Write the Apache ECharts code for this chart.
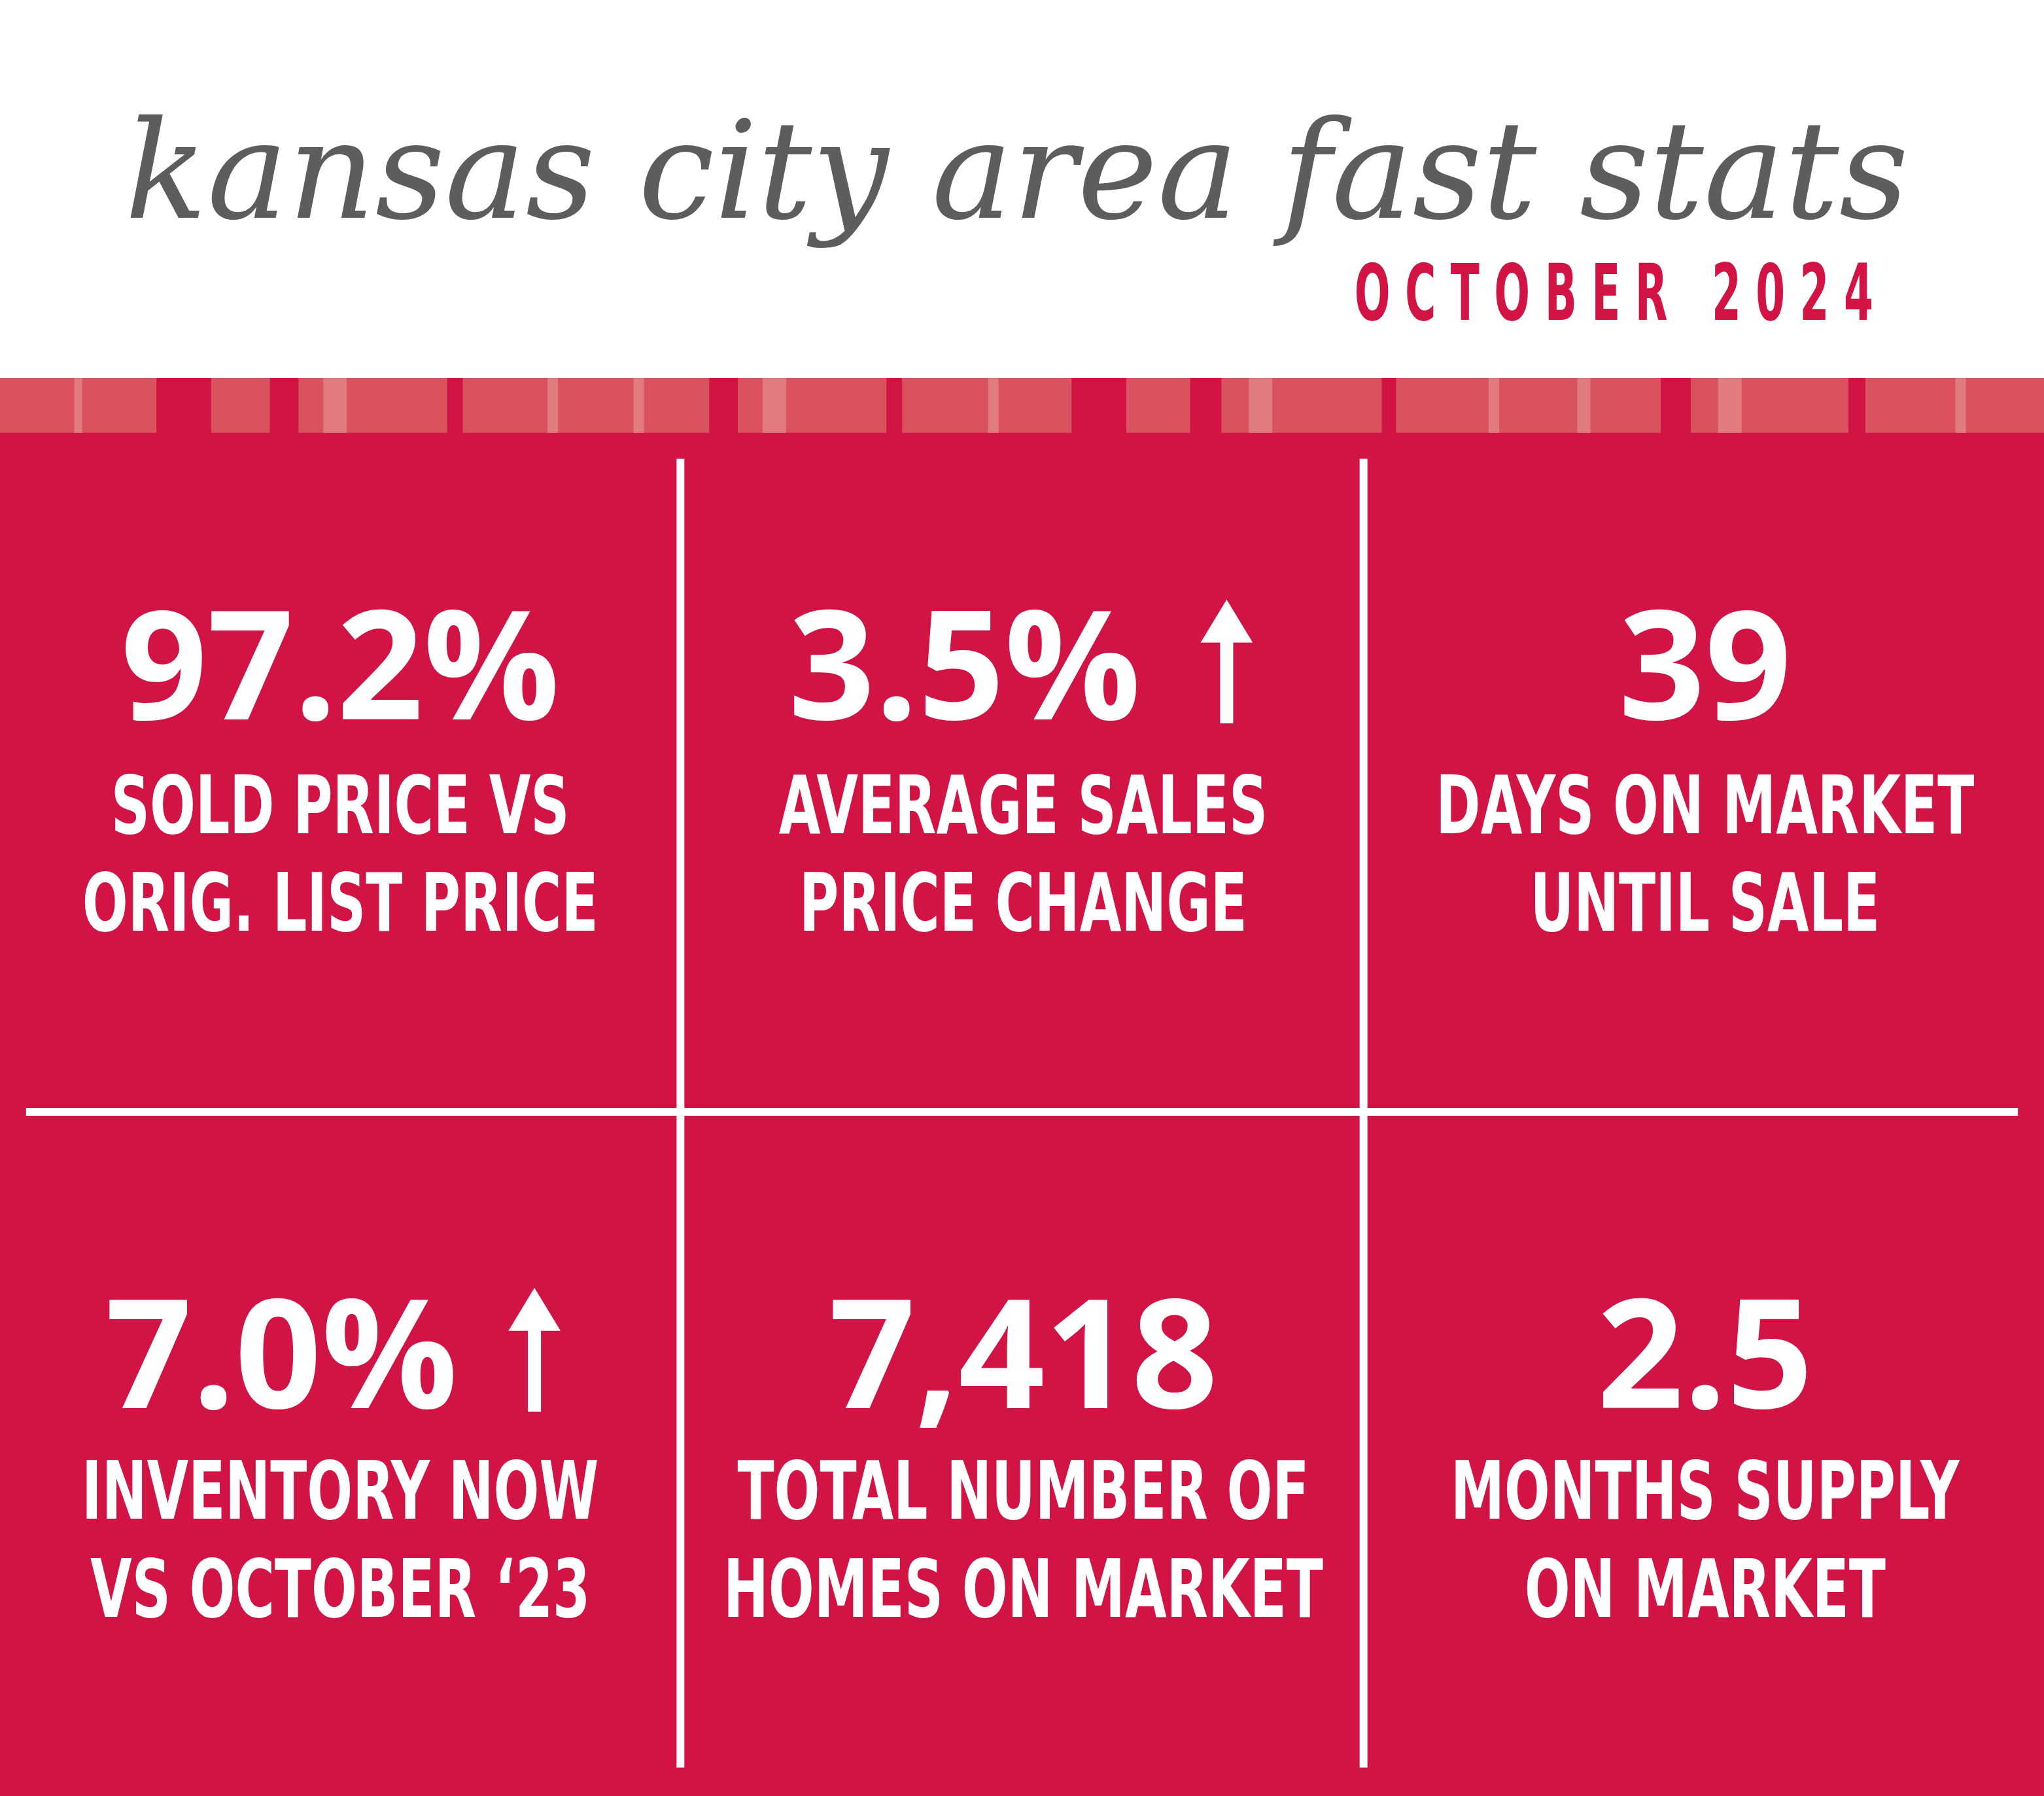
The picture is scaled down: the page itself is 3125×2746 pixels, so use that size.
<!DOCTYPE html>
<html><head><meta charset="utf-8">
<script src="https://cdn.jsdelivr.net/npm/echarts@6/dist/echarts.min.js"></script>
<style>html,body{margin:0;padding:0;background:#fff}#c{width:3125px;height:2746px}</style>
</head><body><div id="c"></div>
<script>
const titleText = "kansas city area fast stats";
const subtitleText = "O C T O B E R   2 0 2 4";
const values = ["97.2%", "3.5%", "39", "7.0%", "7,418", "2.5"];
const labelLine1 = ["SOLD PRICE VS", "AVERAGE SALES", "DAYS ON MARKET", "INVENTORY NOW", "TOTAL NUMBER OF", "MONTHS SUPPLY"];
const labelLine2 = ["ORIG. LIST PRICE", "PRICE CHANGE", "UNTIL SALE", "VS OCTOBER \u201823", "HOMES ON MARKET", "ON MARKET"];
const arrows = [false, true, false, true, false, false];

const s = 3125 / 1568;
const RED = '#d21445';
const COND = '"DejaVu Sans Condensed","DejaVu Sans"';
const chart = echarts.init(document.getElementById('c'), null, {renderer: 'canvas'});
const g = [];
g.push({type:'rect', shape:{x:0,y:290*s,width:3125,height:3000}, style:{fill:RED}});
const segs = [[0,120],[162,207],[229,343],[355,544],[566,680],[692,822],[864,913],[937,1060],[1071,1274],[1297,1418],[1431,1570]];
segs.forEach(([a,b])=>g.push({type:'rect', shape:{x:a*s,y:290*s,width:(b-a)*s,height:42*s}, style:{fill:'#d9525e'}}));
const lines = [[57,63],[248,266],[420,428],[486,494],[585,603],[758,766],[958,976],[1142,1150],[1210,1220],[1318,1336],[1500,1508]];
lines.forEach(([a,b])=>g.push({type:'rect', shape:{x:a*s,y:290*s,width:(b-a)*s,height:42*s}, style:{fill:'#e27b80'}}));
[522,1046].forEach(x=>g.push({type:'rect', shape:{x:(x-3)*s,y:352*s,width:6*s,height:1004*s}, style:{fill:'#fff'}}));
g.push({type:'rect', shape:{x:20*s,y:850*s,width:1528*s,height:6*s}, style:{fill:'#fff'}});
g.push({type:'text', x:780*s, y:140*s, style:{text:titleText, fill:'#5d5d5d', font:'italic '+(104*s)+'px "DejaVu Serif"', align:'center', verticalAlign:'middle'}});
g.push({type:'text', x:1238*s, y:230*s, scaleX:0.6, style:{text:subtitleText, fill:RED, font:'bold '+(60*s)+'px '+COND, align:'center', verticalAlign:'middle'}});
const cx = [261,785,1308];
const rowY = [[510,617,692],[1038,1143,1218]];
for (let i=0;i<6;i++){
  const c = i%3, r = Math.floor(i/3);
  const x = cx[c];
  const nx = arrows[i] ? x-45 : x;
  g.push({type:'text', x:nx*s, y:(rowY[r][0]+9)*s, style:{text:values[i], fill:'#fff', font:'bold '+(116*s)+'px "Open Sans"', align:'center', verticalAlign:'middle'}});
  if (arrows[i]) {
    const ax = (c===1 ? 941 : 410);
    const top = rowY[r][0]-50, bot = rowY[r][0]+45;
    g.push({type:'polygon', shape:{points:[[(ax-20)*s,(top+33)*s],[ax*s,top*s],[(ax+20)*s,(top+33)*s]]}, style:{fill:'#fff'}});
    g.push({type:'rect', shape:{x:(ax-5)*s,y:(top+30)*s,width:10*s,height:(bot-top-30)*s}, style:{fill:'#fff'}});
  }
  [labelLine1[i], labelLine2[i]].forEach((t,k)=>g.push({type:'text', x:x*s, y:(rowY[r][1+k]+6)*s, scaleX:0.74, style:{text:t, fill:'#fff', font:'bold '+(62*s)+'px '+COND, align:'center', verticalAlign:'middle'}}));
}
chart.setOption({animation:false, graphic:{elements:g}});
</script></body></html>
